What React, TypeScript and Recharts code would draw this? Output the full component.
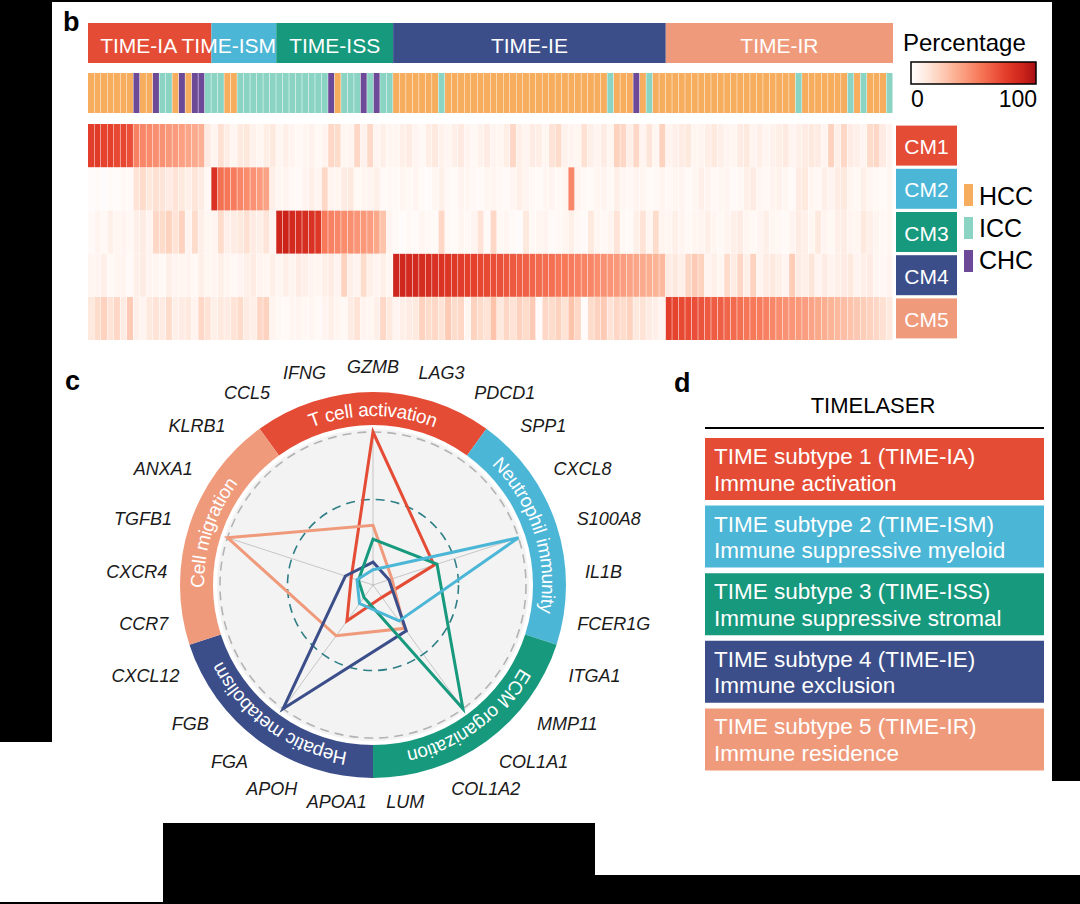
import React from "react";
import {
  BarChart, Bar, Cell, XAxis, YAxis, LabelList,
  RadarChart, Radar, PolarGrid, PolarAngleAxis, PolarRadiusAxis,
  PieChart, Pie,
} from "recharts";

const FONT = '"Liberation Sans", Arial, Helvetica, sans-serif';

// ---- panel b: subtypes / samples ----
const SUBTYPES = ["TIME-IA", "TIME-ISM", "TIME-ISS", "TIME-IE", "TIME-IR"];
const SUBTYPE_SIZES = [19, 10, 18, 42, 35];
const PALETTE = ["#e44c35", "#4cb6d7", "#16997d", "#3b4e8a", "#f09a7c"];
const CM_LABELS = ["CM1", "CM2", "CM3", "CM4", "CM5"];

const TUMOR_LABELS = ["HCC", "ICC", "CHC"];
const TUMOR_COLORS: Record<string, string> = { HCC: "#f6ad5e", ICC: "#8bd4c4", CHC: "#6c4a98" };
const TUMOR_RUNS: [string, number][] = [
  ["HCC", 7], ["CHC", 1], ["HCC", 2], ["CHC", 1], ["ICC", 2], ["HCC", 1], ["CHC", 1], ["HCC", 1],
  ["CHC", 2], ["ICC", 3], ["HCC", 2], ["ICC", 14], ["CHC", 1], ["HCC", 1], ["ICC", 3], ["CHC", 1],
  ["ICC", 1], ["CHC", 1], ["ICC", 2], ["HCC", 7], ["ICC", 1], ["HCC", 25], ["ICC", 1], ["HCC", 3],
  ["CHC", 1], ["HCC", 1], ["ICC", 1], ["HCC", 22], ["ICC", 1], ["HCC", 7], ["ICC", 1], ["HCC", 1],
  ["ICC", 1], ["HCC", 3], ["ICC", 1],
];

// percentage per sample, blocks: IA(19) ISM(10) ISS(18) IE(42) IR(35)
const CM1 = [
  76, 78, 74, 75, 72, 73, 70, 52, 50, 49, 47, 46, 44, 43, 41, 39, 37, 35, 10,
  6, 16, 9, 5, 11, 13, 7, 5, 9, 12,
  5, 8, 6, 4, 5, 7, 4, 6, 20, 18, 5, 6, 20, 7, 19, 6, 8, 5,
  5, 8, 10, 6, 4, 9, 12, 7, 5, 8, 11, 6, 4, 7, 10, 6, 5, 9, 20, 8, 6, 10, 9, 5,
  15, 18, 7, 6, 5, 16, 8, 6, 10, 5, 22, 20, 8, 20, 6, 14, 5, 22,
  6, 8, 10, 12, 5, 6, 9, 12, 8, 6, 5, 10, 12, 6, 8, 5, 7, 9, 11, 6, 8, 10, 12, 10, 6,
  22, 8, 20, 10, 8, 6, 18, 20, 10, 6,
];
const CM2 = [
  2, 3, 2, 3, 2, 4, 3, 15, 18, 12, 16, 14, 10, 15, 12, 8, 14, 10, 4,
  82, 58, 56, 54, 50, 48, 46, 43, 40, 8,
  5, 6, 4, 3, 6, 8, 5, 20, 6, 5, 10, 12, 4, 5, 6, 8, 3, 4,
  3, 5, 4, 6, 3, 2, 5, 8, 4, 3, 6, 5, 4, 3, 5, 6, 4, 3, 5, 8, 6, 4, 3, 5, 6, 4, 5,
  50, 6, 4, 3, 5, 6, 4, 8, 5, 4, 6, 5, 3, 4, 6,
  4, 5, 6, 3, 5, 8, 6, 4, 5, 6, 3, 4, 8, 10, 5, 4, 6, 7, 5, 3, 10, 12, 5, 4, 8, 6,
  10, 12, 5, 4, 8, 5, 4, 3, 5,
];
const CM3 = [
  3, 6, 4, 8, 5, 6, 4, 8, 10, 6, 20, 18, 22, 15, 22, 6, 18, 8, 5,
  6, 18, 8, 10, 12, 16, 10, 8, 14, 6,
  88, 90, 86, 85, 84, 82, 80, 55, 52, 50, 48, 47, 45, 44, 42, 38, 28, 6,
  3, 2, 4, 3, 5, 4, 3, 20, 4, 3, 5, 4, 6, 15, 3, 20, 4, 5, 3, 2, 12, 4, 5, 6, 3, 4,
  5, 8, 4, 3, 12, 5, 4, 6, 15, 4, 3, 8, 15, 5, 18, 6,
  5, 8, 6, 4, 5, 6, 8, 5, 4, 6, 8, 10, 5, 4, 6, 8, 5, 4, 3, 6, 10, 8, 5, 12, 6, 4,
  8, 10, 6, 5, 12, 8, 6, 4, 5,
];
const CM4 = [
  5, 6, 8, 4, 5, 6, 3, 8, 10, 6, 5, 4, 8, 6, 5, 6, 4, 8, 5,
  6, 8, 5, 4, 6, 8, 10, 6, 5, 8,
  5, 8, 6, 10, 8, 6, 5, 8, 10, 6, 22, 8, 6, 18, 8, 6, 8, 5,
  88, 87, 86, 86, 85, 84, 82, 81, 80, 79, 77, 76, 75, 73, 72, 70, 69, 67, 66, 64, 63,
  62, 60, 59, 58, 56, 55, 54, 52, 51, 50, 48, 46, 45, 44, 42, 40, 39, 37, 36, 34, 32,
  10, 12, 8, 20, 25, 22, 6, 8, 5, 18, 10, 20, 8, 22, 6, 10, 12, 8, 6, 24, 10, 8, 14,
  6, 10, 6, 8, 10, 12, 6, 8, 10, 5, 4, 6,
];
const CM5 = [
  12, 18, 22, 15, 20, 10, 25, 8, 6, 12, 15, 10, 18, 8, 10, 12, 6, 20, 15,
  8, 12, 10, 15, 18, 10, 8, 20, 22, 6,
  4, 3, 5, 6, 4, 5, 3, 6, 8, 5, 4, 10, 15, 6, 5, 8, 20, 12,
  6, 8, 10, 12, 22, 18, 20, 15, 25, 18, 20, 5, 22, 18, 15, 28, 12, 20, 15, 22, 18,
  25, 2, 20, 18, 22, 15, 28, 20, 2, 18, 22, 25, 15, 20, 18, 22, 12, 15, 10, 8, 6,
  76, 74, 72, 71, 70, 68, 66, 65, 64, 62, 60, 58, 56, 55, 54, 52, 50, 48, 46, 45, 44,
  42, 40, 38, 36, 34, 32, 30, 28, 26, 24, 22, 20, 16, 12,
];

// ---- panel c: radar ----
const MODULES = ["T cell activation", "Neutrophil immunity", "ECM organization", "Hepatic metabolism", "Cell migration"];
const MODULE_GENES = [
  ["CCL5", "IFNG", "GZMB", "LAG3", "PDCD1"],
  ["SPP1", "CXCL8", "S100A8", "IL1B", "FCER1G"],
  ["ITGA1", "MMP11", "COL1A1", "COL1A2", "LUM"],
  ["APOA1", "APOH", "FGA", "FGB", "CXCL12"],
  ["CCR7", "CXCR4", "TGFB1", "ANXA1", "KLRB1"],
];
const SCORE_IA = [1.0, 0.42, 0.1, 0.29, 0.15];
const SCORE_ISM = [0.1, 1.0, 0.29, 0.15, 0.11];
const SCORE_ISS = [0.3, 0.44, 1.0, 0.1, 0.1];
const SCORE_IE = [0.15, 0.11, 0.37, 1.0, 0.19];
const SCORE_IR = [0.39, 0.13, 0.35, 0.41, 1.0];

// ---- panel d ----
const TABLE_TITLES = [
  "TIME subtype 1 (TIME-IA)", "TIME subtype 2 (TIME-ISM)", "TIME subtype 3 (TIME-ISS)",
  "TIME subtype 4 (TIME-IE)", "TIME subtype 5 (TIME-IR)",
];
const TABLE_DESC = [
  "Immune activation", "Immune suppressive myeloid", "Immune suppressive stromal",
  "Immune exclusion", "Immune residence",
];

const HEAT_STOPS: [number, string][] = [
  [0, "#ffffff"], [15, "#fee3d6"], [35, "#fcb194"], [55, "#f7795a"],
  [75, "#e5402c"], [90, "#cb221a"], [100, "#a50f15"],
];

function hex(c: string) {
  return [1, 3, 5].map((k) => parseInt(c.slice(k, k + 2), 16));
}
function heatColor(v: number) {
  for (let k = 1; k < HEAT_STOPS.length; k++) {
    const [v1, c1] = HEAT_STOPS[k];
    if (v <= v1) {
      const [v0, c0] = HEAT_STOPS[k - 1];
      const t = (v - v0) / (v1 - v0);
      const a = hex(c0), b = hex(c1);
      return `rgb(${a.map((x, j) => Math.round(x + (b[j] - x) * t)).join(",")})`;
    }
  }
  return HEAT_STOPS[HEAT_STOPS.length - 1][1];
}

const tumorSeq = TUMOR_RUNS.flatMap(([t, n]) => Array(n).fill(t));
const heatTable = CM1.map((_, i) => ({
  sample: i, cm1: CM1[i], cm2: CM2[i], cm3: CM3[i], cm4: CM4[i], cm5: CM5[i],
  type: tumorSeq[i], h1: 1, h2: 1, h3: 1, h4: 1, h5: 1,
}));
const subtypeRow = [{ row: "subtype", ...Object.fromEntries(SUBTYPES.map((s, i) => [s, SUBTYPE_SIZES[i]])) }];
const nSamples = SUBTYPE_SIZES.reduce((a, b) => a + b, 0);
const LABEL_SHIFT = [-11, -15, 0, 0, 0];

const radarTable = MODULES.map((m, i) => ({
  module: m, IA: SCORE_IA[i], ISM: SCORE_ISM[i], ISS: SCORE_ISS[i], IE: SCORE_IE[i], IR: SCORE_IR[i],
}));
const flatGenes = MODULE_GENES.flat();
const GENES = [...flatGenes.slice(2), ...flatGenes.slice(0, 2)];
const geneTable = GENES.map((g) => ({ gene: g, v: 0 }));
const ringTable = MODULES.map((m, i) => ({ module: m, genes: MODULE_GENES[i].length }));
const totalGenes = flatGenes.length;
const ringStart = 90 + (360 * MODULE_GENES[0].length) / totalGenes / 2;

const tableRows = SUBTYPES.map((s, i) => ({ subtype: s, title: TABLE_TITLES[i], desc: TABLE_DESC[i], full: 1 }));

const SERIES = [
  { key: "IA", color: PALETTE[0] },
  { key: "IR", color: PALETTE[4] },
  { key: "IE", color: PALETTE[3] },
  { key: "ISS", color: PALETTE[2] },
  { key: "ISM", color: PALETTE[1] },
];

const RAD = Math.PI / 180;
const GCX = 320, GCY = 280, GENE_R = 207;

const geneTick = (props: any) => {
  const { payload } = props;
  const th = (90 - payload.coordinate) * RAD;
  const s = Math.sin(th), c = Math.cos(th);
  const w = String(payload.value).length * 11.5;
  const f = Math.min(1, 2.8 * Math.abs(s)) * Math.sign(s);
  const r = GENE_R + 8 * Math.abs(Math.sin(2 * th));
  const x = GCX + r * s + (f * w) / 2;
  const y = GCY - r * c - c * 11 * (1 - Math.abs(s));
  return (
    <text x={x} y={y} textAnchor="middle" dominantBaseline="central" fontStyle="italic"
      fontSize={18} fontFamily={FONT} fill="#1a1a1a">{payload.value}</text>
  );
};

const arcLabel = (props: any) => {
  const { cx, cy, midAngle, index } = props;
  const half = 180 * MODULE_GENES[index].length / totalGenes;
  const a0 = (midAngle + half) * RAD, a1 = (midAngle - half) * RAD;
  const r = 176;
  const x0 = cx + r * Math.cos(-a0), y0 = cy + r * Math.sin(-a0);
  const x1 = cx + r * Math.cos(-a1), y1 = cy + r * Math.sin(-a1);
  const id = `ring-arc-${index}`;
  return (
    <g key={id}>
      <defs><path id={id} d={`M ${x0} ${y0} A ${r} ${r} 0 0 1 ${x1} ${y1}`} /></defs>
      <text fill="#fff" fontSize={19} fontFamily={FONT} dominantBaseline="central">
        <textPath href={`#${id}`} startOffset="50%" textAnchor="middle">{MODULES[index]}</textPath>
      </text>
    </g>
  );
};

const cmTick = (props: any) => {
  const { x, y, payload } = props;
  const i = 4 - Math.floor(payload.value);
  return (
    <g>
      <rect x={x + 3} y={y - 20} width={61} height={40} fill={PALETTE[i]} />
      <text x={x + 33.5} y={y + 1} textAnchor="middle" dominantBaseline="central" fill="#fff"
        fontSize={21} fontFamily={FONT}>{CM_LABELS[i]}</text>
    </g>
  );
};

const abs = (left: number, top: number): React.CSSProperties => ({ position: "absolute", left, top });

export default function App() {
  const zero = { top: 0, right: 0, bottom: 0, left: 0 };
  return (
    <div style={{ position: "absolute", left: 0, top: 0, width: 1080, height: 904, background: "#000", overflow: "hidden", fontFamily: FONT }}>
      {/* white paper */}
      <div style={{ ...abs(52, 2), width: 1000, height: 821, background: "#fff" }} />
      <div style={{ ...abs(0, 742), width: 163, height: 160, background: "#fff" }} />
      <div style={{ ...abs(595, 781), width: 485, height: 94, background: "#fff" }} />

      <svg width={1080} height={904} style={abs(0, 0)}>
        <defs>
          <linearGradient id="pct" x1="0" x2="1" y1="0" y2="0">
            {HEAT_STOPS.map(([v, c]) => <stop key={v} offset={`${v}%`} stopColor={c} />)}
          </linearGradient>
        </defs>
        <g fontFamily={FONT} fontWeight={900} fontSize={27} fill="#000">
          <text x={63} y={31}>b</text>
          <text x={65} y={390}>c</text>
          <text x={674} y={392}>d</text>
        </g>
        <text x={903} y={51} fontSize={24} fontFamily={FONT}>Percentage</text>
        <rect x={911} y={62} width={125} height={22} fill="url(#pct)" stroke="#000" strokeWidth={1.5} />
        <text x={911} y={107} fontSize={23} fontFamily={FONT}>0</text>
        <text x={1037} y={107} fontSize={23} fontFamily={FONT} textAnchor="end">100</text>
        {TUMOR_LABELS.map((t, i) => (
          <g key={t}>
            <rect x={964} y={184 + i * 33} width={9} height={22} fill={TUMOR_COLORS[t]} />
            <text x={979} y={205 + i * 32} fontSize={25} fontFamily={FONT}>{t}</text>
          </g>
        ))}
        <text x={873} y={413} textAnchor="middle" fontSize={22} fontFamily={FONT}>TIMELASER</text>
        <line x1={705} x2={1044} y1={428} y2={428} stroke="#000" strokeWidth={2} />
      </svg>

      {/* subtype annotation bar */}
      <div style={abs(88, 23)}>
        <BarChart layout="vertical" width={805} height={40} data={subtypeRow} margin={zero} barCategoryGap={0}>
          <XAxis type="number" hide domain={[0, nSamples]} />
          <YAxis type="category" dataKey="row" hide />
          {SUBTYPES.map((s, i) => (
            <Bar key={s} dataKey={s} stackId="s" fill={PALETTE[i]} isAnimationActive={false}
              label={(p: any) => (
                <text x={p.x + p.width / 2 + LABEL_SHIFT[i]} y={p.y + p.height / 2 + 2} textAnchor="middle"
                  dominantBaseline="central" fill="#fff" fontSize={21} fontFamily={FONT}>{s}</text>
              )} />
          ))}
        </BarChart>
      </div>

      {/* tumour type bar */}
      <div style={abs(88, 73)}>
        <BarChart width={805} height={40} data={heatTable} margin={zero} barCategoryGap={0} barGap={0}>
          <XAxis dataKey="sample" hide />
          <YAxis hide domain={[0, 1]} />
          <Bar dataKey="h1" isAnimationActive={false}>
            {heatTable.map((d) => <Cell key={d.sample} fill={TUMOR_COLORS[d.type]} />)}
          </Bar>
        </BarChart>
      </div>

      {/* heatmap */}
      <div style={abs(88, 124)}>
        <BarChart width={875} height={216} data={heatTable} margin={zero} barCategoryGap={0} barGap={0}>
          <XAxis dataKey="sample" hide />
          <YAxis orientation="right" type="number" domain={[0, 5]} ticks={[0.5, 1.5, 2.5, 3.5, 4.5]}
            width={70} axisLine={false} tickLine={false} tickSize={0} tickMargin={0} interval={0} tick={cmTick} />
          {[5, 4, 3, 2, 1].map((n) => (
            <Bar key={n} dataKey={`h${n}`} stackId="h" isAnimationActive={false}>
              {heatTable.map((d: any) => <Cell key={d.sample} fill={heatColor(d[`cm${n}`])} />)}
            </Bar>
          ))}
        </BarChart>
      </div>

      {/* ring + disc */}
      <div style={abs(143, 355)}>
        <PieChart width={460} height={460} margin={zero}>
          <Pie data={[{ v: 1 }]} dataKey="v" cx={230} cy={230} outerRadius={156} fill="#f3f3f3"
            stroke="none" isAnimationActive={false} />
          <Pie data={ringTable} dataKey="genes" cx={230} cy={230} innerRadius={160} outerRadius={193}
            startAngle={ringStart} endAngle={ringStart - 360} stroke="none" label={arcLabel} labelLine={false}
            isAnimationActive={false}>
            {ringTable.map((r, i) => <Cell key={r.module} fill={PALETTE[i]} />)}
          </Pie>
        </PieChart>
      </div>

      {/* radar */}
      <div style={abs(143, 355)}>
        <RadarChart width={460} height={460} cx={230} cy={230} outerRadius={153} data={radarTable} margin={zero}>
          <PolarGrid gridType="circle" polarRadius={[1]} radialLines stroke="#c6c6c6" strokeWidth={1} />
          <PolarGrid gridType="circle" polarRadius={[153]} radialLines={false} stroke="#b3b3b3"
            strokeWidth={1.6} strokeDasharray="9 6" />
          <PolarGrid gridType="circle" polarRadius={[85.5]} radialLines={false} stroke="#2e7e86"
            strokeWidth={1.6} strokeDasharray="9 6" />
          <PolarAngleAxis dataKey="module" tick={false} axisLine={false} tickLine={false} />
          <PolarRadiusAxis domain={[0, 1]} tick={false} axisLine={false} />
          {SERIES.map((s) => (
            <Radar key={s.key} dataKey={s.key} stroke={s.color} strokeWidth={3} fill="none" fillOpacity={0}
              dot={{ r: 4.5, fill: s.color, stroke: s.color, strokeWidth: 0 }} isAnimationActive={false} />
          ))}
        </RadarChart>
      </div>

      {/* gene labels */}
      <div style={abs(373 - GCX, 585 - GCY)}>
        <RadarChart width={640} height={560} cx={GCX} cy={GCY} outerRadius={GENE_R} data={geneTable} margin={zero}>
          <PolarAngleAxis dataKey="gene" axisLine={false} tickLine={false} tick={geneTick} />
          <PolarRadiusAxis domain={[0, 1]} tick={false} axisLine={false} />
          <Radar dataKey="v" stroke="none" fill="none" isAnimationActive={false} />
        </RadarChart>
      </div>

      {/* panel d table */}
      <div style={abs(705, 435)}>
        <BarChart layout="vertical" width={339} height={338} data={tableRows} margin={zero} barCategoryGap={3}>
          <XAxis type="number" hide domain={[0, 1]} />
          <YAxis type="category" dataKey="subtype" hide />
          <Bar dataKey="full" isAnimationActive={false}>
            {tableRows.map((r, i) => <Cell key={r.subtype} fill={PALETTE[i]} />)}
            <LabelList dataKey="title" content={(p: any) => {
              const vb = p.viewBox || p;
              return <text x={vb.x + 9} y={vb.y + 26} fill="#fff" fontSize={22.5} fontFamily={FONT}>{p.value}</text>;
            }} />
            <LabelList dataKey="desc" content={(p: any) => {
              const vb = p.viewBox || p;
              return <text x={vb.x + 9} y={vb.y + 52.5} fill="#fff" fontSize={22.5} fontFamily={FONT}>{p.value}</text>;
            }} />
          </Bar>
        </BarChart>
      </div>
    </div>
  );
}
